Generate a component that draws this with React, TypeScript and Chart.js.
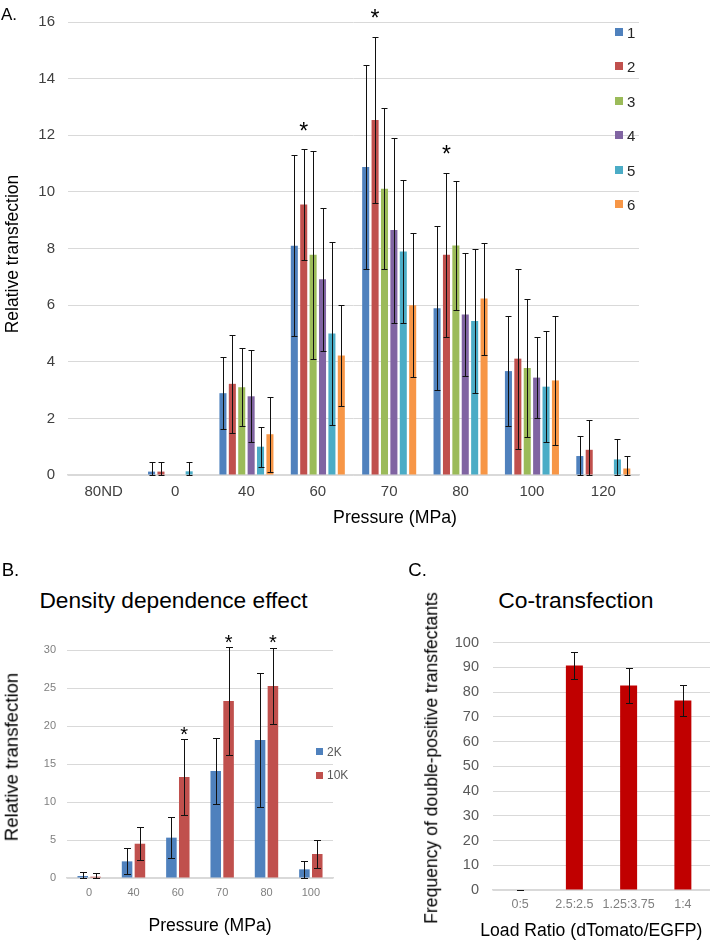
import React, { useEffect, useRef } from "react";
import { Chart, registerables } from "chart.js";

Chart.register(...registerables);

const FONT = '"Liberation Sans", Arial, Helvetica, sans-serif';

// ---------- Panel A data ----------
const catsA = ["80ND", "0", "40", "60", "70", "80", "100", "120"];
const namesA = ["1", "2", "3", "4", "5", "6"];
const colorsA = ["#4F81BD", "#C0504D", "#9BBB59", "#8064A2", "#4BACC6", "#F79646"];
const a1 = [0, 0.12, 2.89, 8.1, 10.88, 5.89, 3.67, 0.67];
const a1err = [0, 0.34, 1.27, 3.2, 3.59, 2.89, 1.93, 0.71];
const a2 = [0, 0.12, 3.22, 9.55, 12.54, 7.78, 4.11, 0.89];
const a2err = [0, 0.34, 1.73, 1.95, 2.93, 2.9, 3.18, 1.05];
const a3 = [0, 0, 3.1, 7.78, 10.11, 8.11, 3.78, 0];
const a3err = [0, 0, 1.37, 3.67, 2.85, 2.27, 2.43, 0];
const a4 = [0, 0, 2.78, 6.91, 8.65, 5.67, 3.44, 0];
const a4err = [0, 0, 1.63, 2.52, 3.27, 2.17, 1.42, 0];
const a5 = [0, 0.13, 1.0, 5.0, 7.89, 5.44, 3.12, 0.55];
const a5err = [0, 0.34, 0.71, 3.23, 2.53, 2.55, 1.96, 0.73];
const a6 = [0, 0, 1.44, 4.22, 6.0, 6.23, 3.34, 0.23];
const a6err = [0, 0, 1.33, 1.78, 2.54, 1.98, 2.29, 0.44];
const valuesA = [a1, a2, a3, a4, a5, a6];
const errorsA = [a1err, a2err, a3err, a4err, a5err, a6err];
const starsA = ["60", "70", "80"];

// ---------- Panel B data ----------
const catsB = ["0", "40", "60", "70", "80", "100"];
const namesB = ["2K", "10K"];
const colorsB = ["#4F81BD", "#C0504D"];
const b2k = [0.26, 2.19, 5.31, 14.08, 18.16, 1.14];
const b2kErr = [0.57, 1.7, 2.68, 4.4, 8.85, 1.14];
const b10k = [0.17, 4.51, 13.29, 23.29, 25.26, 3.16];
const b10kErr = [0.53, 2.2, 4.95, 7.04, 5.03, 1.78];
const starsB = ["60", "70", "80"];

// ---------- Panel C data ----------
const catsC = ["0:5", "2.5:2.5", "1.25:3.75", "1:4"];
const coValues = [0, 90.8, 82.7, 76.6];
const coErrors = [0, 5.3, 7.0, 6.2];

// ---------- error bar + star plugin ----------
const errBarsPlugin = {
  id: "errBars",
  afterDatasetsDraw(chart: any, _args: any, opts: any) {
    const ctx = chart.ctx;
    const y = chart.scales.y;
    const yMin = y.min;
    const cap = opts.cap ?? 3;
    ctx.save();
    ctx.strokeStyle = opts.color ?? "#000";
    ctx.lineWidth = opts.lineWidth ?? 1;
    chart.data.datasets.forEach((ds: any, i: number) => {
      const errs = ds.errors;
      if (!errs) return;
      const meta = chart.getDatasetMeta(i);
      meta.data.forEach((el: any, j: number) => {
        const v = ds.data[j];
        const e = errs[j];
        if (!(e > 0) && !opts.drawZero) return;
        const x = Math.round(el.x) + 0.5;
        const yt = Math.round(y.getPixelForValue(v + e)) + 0.5;
        const yb = Math.round(y.getPixelForValue(Math.max(v - e, yMin))) + 0.5;
        ctx.beginPath();
        ctx.moveTo(x, yt);
        ctx.lineTo(x, yb);
        ctx.moveTo(x - cap, yt);
        ctx.lineTo(x + cap, yt);
        ctx.moveTo(x - cap, yb);
        ctx.lineTo(x + cap, yb);
        ctx.stroke();
      });
    });
    const stars: string[] = opts.stars ?? [];
    if (stars.length) {
      const size = opts.starSize ?? 22;
      ctx.fillStyle = "#000";
      ctx.font = `${size}px ${FONT}`;
      ctx.textAlign = "center";
      ctx.textBaseline = "alphabetic";
      const dsIdx = opts.starDataset ?? 1;
      const ds = chart.data.datasets[dsIdx];
      const meta = chart.getDatasetMeta(dsIdx);
      stars.forEach((cat) => {
        const j = chart.data.labels.indexOf(cat);
        if (j < 0) return;
        const el = meta.data[j];
        const top = y.getPixelForValue(ds.data[j] + (ds.errors ? ds.errors[j] : 0));
        const cy = top - (opts.starOffset ?? 20);
        ctx.fillText("*", el.x, cy + 0.57 * size);
      });
    }
    ctx.restore();
  },
};

function makeConfig(p: {
  labels: string[];
  datasets: any[];
  padding: any;
  yWidth: number;
  xHeight: number;
  yMax: number;
  yStep: number;
  yFont: number;
  yColor: string;
  yPad: number;
  xFont: number;
  xColor: string;
  xPad: number;
  errOpts: any;
}) {
  return {
    type: "bar",
    data: { labels: p.labels, datasets: p.datasets },
    options: {
      responsive: false,
      animation: false,
      layout: { padding: p.padding },
      plugins: {
        legend: { display: false },
        tooltip: { enabled: false },
        errBars: p.errOpts,
      },
      scales: {
        x: {
          grid: { display: false, drawTicks: false },
          border: { display: true, color: "#d9d9d9", width: 1.5 },
          ticks: {
            font: { family: FONT, size: p.xFont },
            color: p.xColor,
            padding: p.xPad,
            maxRotation: 0,
            autoSkip: false,
          },
          afterFit: (s: any) => {
            s.height = p.xHeight;
          },
        },
        y: {
          min: 0,
          max: p.yMax,
          grid: { color: "#d9d9d9", lineWidth: 1, drawTicks: false },
          border: { display: false },
          ticks: {
            stepSize: p.yStep,
            font: { family: FONT, size: p.yFont },
            color: p.yColor,
            padding: p.yPad,
          },
          afterFit: (s: any) => {
            s.width = p.yWidth;
          },
        },
      },
    },
    plugins: [errBarsPlugin],
  };
}

function ChartCanvas(props: { config: () => any; left: number; top: number; width: number; height: number }) {
  const ref = useRef<HTMLCanvasElement>(null);
  useEffect(() => {
    const chart = new Chart(ref.current as HTMLCanvasElement, props.config() as any);
    return () => chart.destroy();
  }, []);
  return (
    <canvas
      ref={ref}
      width={props.width}
      height={props.height}
      style={{ position: "absolute", left: props.left, top: props.top, width: props.width, height: props.height }}
    />
  );
}

function Txt(props: {
  x: number;
  y: number;
  size: number;
  children: React.ReactNode;
  rotate?: boolean;
  anchor?: "center" | "left";
  color?: string;
}) {
  const anchorX = props.anchor === "left" ? "0" : "-50%";
  const transform = `translate(${anchorX}, -50%)` + (props.rotate ? " rotate(-90deg)" : "");
  return (
    <div
      style={{
        position: "absolute",
        left: props.x,
        top: props.y,
        transform,
        fontFamily: FONT,
        fontSize: props.size,
        lineHeight: 1,
        whiteSpace: "nowrap",
        color: props.color ?? "#000",
      }}
    >
      {props.children}
    </div>
  );
}

const configA = () =>
  makeConfig({
    labels: catsA,
    datasets: namesA.map((n, i) => ({
      label: n,
      data: valuesA[i],
      errors: errorsA[i],
      backgroundColor: colorsA[i],
      borderWidth: 0,
      categoryPercentage: 0.79,
      barPercentage: 0.75,
    })),
    padding: { left: 0, top: 13, right: 71, bottom: 35 },
    yWidth: 68,
    xHeight: 30,
    yMax: 16,
    yStep: 2,
    yFont: 15,
    yColor: "#404040",
    yPad: 13,
    xFont: 15,
    xColor: "#404040",
    xPad: 8,
    errOpts: { cap: 3, color: "#111", stars: starsA, starDataset: 1, starOffset: 24, starSize: 23 },
  });

const configB = () =>
  makeConfig({
    labels: catsB,
    datasets: [
      { label: namesB[0], data: b2k, errors: b2kErr, backgroundColor: colorsB[0] },
      { label: namesB[1], data: b10k, errors: b10kErr, backgroundColor: colorsB[1] },
    ].map((d) => ({ ...d, borderWidth: 0, categoryPercentage: 0.58, barPercentage: 0.82 })),
    padding: { left: 0, top: 30, right: 22, bottom: 32 },
    yWidth: 67,
    xHeight: 30,
    yMax: 30,
    yStep: 5,
    yFont: 11,
    yColor: "#7f7f7f",
    yPad: 11,
    xFont: 11,
    xColor: "#7f7f7f",
    xPad: 8,
    errOpts: { cap: 3.5, color: "#111", stars: starsB, starDataset: 1, starOffset: 10, starSize: 20 },
  });

const configC = () =>
  makeConfig({
    labels: catsC,
    datasets: [
      {
        label: "Co-transfection",
        data: coValues,
        errors: coErrors,
        backgroundColor: "#C00000",
        borderWidth: 0,
        categoryPercentage: 1,
        barPercentage: 0.313,
      },
    ],
    padding: { left: 0, top: 14, right: 0, bottom: 20 },
    yWidth: 133,
    xHeight: 30,
    yMax: 100,
    yStep: 10,
    yFont: 14.5,
    yColor: "#595959",
    yPad: 14,
    xFont: 12.5,
    xColor: "#808080",
    xPad: 7,
    errOpts: { cap: 3.5, color: "#111", drawZero: true },
  });

export default function App() {
  return (
    <div
      style={{
        position: "absolute",
        left: 0,
        top: 0,
        width: 710,
        height: 940,
        background: "#fff",
        overflow: "hidden",
      }}
    >
      {/* Panel A */}
      <ChartCanvas config={configA} left={0} top={0} width={710} height={540} />
      <Txt x={1} y={14.3} size={17} anchor="left">A.</Txt>
      <Txt x={13.4} y={254} size={17.5} rotate>Relative transfection</Txt>
      <Txt x={395} y={518.4} size={17.7}>Pressure (MPa)</Txt>
      {namesA.map((n, i) => (
        <React.Fragment key={n}>
          <div
            style={{
              position: "absolute",
              left: 615,
              top: 31.7 + i * 34.5 - 4,
              width: 8,
              height: 8,
              background: colorsA[i],
            }}
          />
          <Txt x={627} y={31.7 + i * 34.5} size={15} anchor="left" color="#262626">
            {n}
          </Txt>
        </React.Fragment>
      ))}

      {/* Panel B */}
      <ChartCanvas config={configB} left={0} top={620} width={355} height={320} />
      <Txt x={1.7} y={570.2} size={18.6} anchor="left">B.</Txt>
      <Txt x={173.5} y={600.1} size={22.7}>Density dependence effect</Txt>
      <Txt x={11.9} y={757} size={18.6} rotate>Relative transfection</Txt>
      <Txt x={210} y={925.8} size={17.6}>Pressure (MPa)</Txt>
      {namesB.map((n, i) => (
        <React.Fragment key={n}>
          <div
            style={{
              position: "absolute",
              left: 316,
              top: 751.7 + i * 23.3 - 3.5,
              width: 7,
              height: 7,
              background: colorsB[i],
            }}
          />
          <Txt x={327} y={751.7 + i * 23.3} size={12} anchor="left" color="#595959">
            {n}
          </Txt>
        </React.Fragment>
      ))}

      {/* Panel C */}
      <ChartCanvas config={configC} left={360} top={620} width={350} height={320} />
      <Txt x={408.3} y={570.2} size={18.6} anchor="left">C.</Txt>
      <Txt x={575.8} y={600.2} size={22.9}>Co-transfection</Txt>
      <Txt x={431.5} y={757.5} size={17.6} rotate>Frequency of double-positive transfectants</Txt>
      <Txt x={591.3} y={930.5} size={17.6}>Load Ratio (dTomato/EGFP)</Txt>
    </div>
  );
}
